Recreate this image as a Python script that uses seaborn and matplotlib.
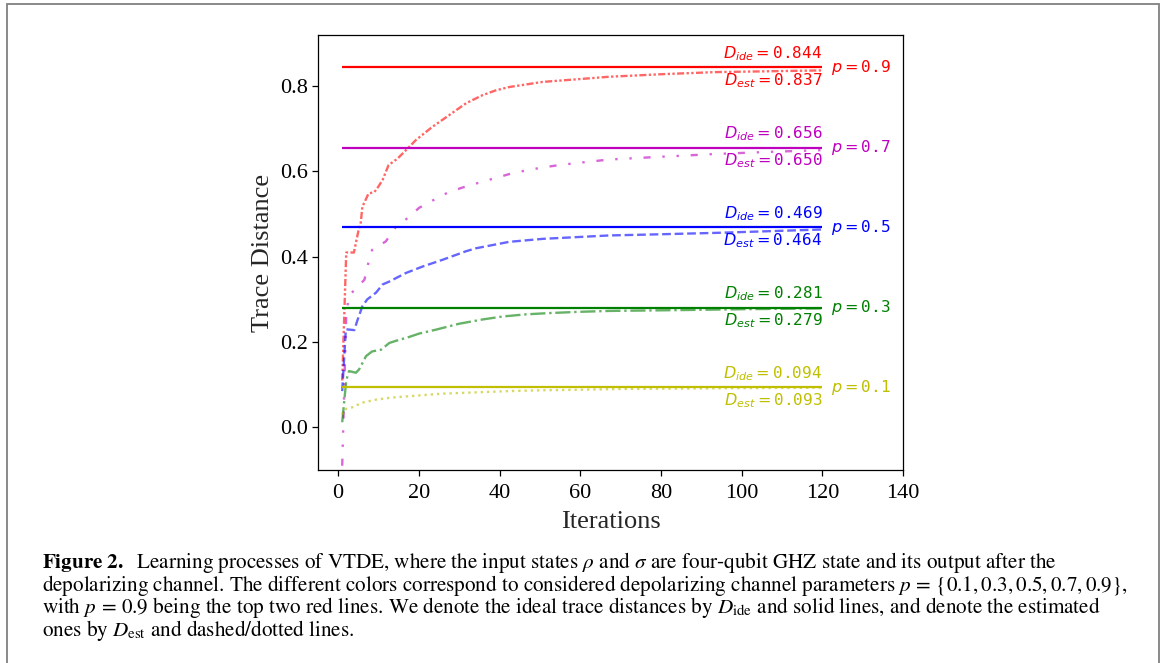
import numpy as np
import pandas as pd
import matplotlib
matplotlib.use("Agg")
import matplotlib.pyplot as plt
from matplotlib.patches import Rectangle
import seaborn as sns

# depolarizing parameters and the ideal trace distances
p_values = [0.9, 0.7, 0.5, 0.3, 0.1]
d_ideal = [0.844, 0.656, 0.469, 0.281, 0.094]
d_est_final = [0.837, 0.650, 0.464, 0.279, 0.093]
colors = ["#ff0000", "#bf00bf", "#0000ff", "#008000", "#bfbf00"]

# learning curves (iteration, estimated trace distance)
iter_p09 = [1, 2, 3.9, 5.0, 5.6, 6.0, 6.5, 7.5, 9.0, 10.0, 11.0, 12.5, 14.7, 16.8, 19.3,
            23.4, 27.5, 31.7, 35.8, 39.0, 42.4, 50.7, 59.0, 67.0, 80.0, 93.5, 107.0, 120.0]
est_p09 = [0.11, 0.41, 0.41, 0.46, 0.48, 0.518, 0.527, 0.548, 0.552, 0.565, 0.58, 0.615,
           0.63, 0.65, 0.674, 0.705, 0.732, 0.76, 0.779, 0.79, 0.798, 0.81, 0.816, 0.822,
           0.828, 0.833, 0.835, 0.837]

iter_p07 = [1, 2, 2.7, 4.4, 6.5, 7.5, 8.4, 11.8, 14.3, 17.1, 20.1, 24.2, 27.5, 31.7, 35.4,
            39.1, 43.2, 47.4, 51.1, 54.8, 59.3, 63.2, 67.2, 79.0, 93.5, 107.0, 120.0]
est_p07 = [-0.09, 0.265, 0.31, 0.325, 0.346, 0.386, 0.416, 0.436, 0.47, 0.49, 0.515, 0.536,
           0.552, 0.565, 0.575, 0.585, 0.596, 0.604, 0.61, 0.615, 0.62, 0.624, 0.628, 0.634,
           0.641, 0.646, 0.650]

iter_p05 = [1, 1.9, 4.0, 4.7, 6.0, 7.2, 9.4, 11.0, 12.7, 16.8, 20.9, 25.9, 31.7, 34.2, 42.4,
            50.7, 59.0, 67.2, 76.7, 93.5, 107.0, 120.0]
est_p05 = [0.085, 0.23, 0.228, 0.249, 0.284, 0.30, 0.316, 0.335, 0.342, 0.362, 0.377, 0.393,
           0.413, 0.42, 0.435, 0.442, 0.446, 0.450, 0.452, 0.456, 0.460, 0.464]

iter_p03 = [1, 2, 2.7, 4.4, 5.2, 6.9, 8.4, 10.6, 12.7, 14.7, 17.6, 20.1, 24.2, 30.0, 35.8,
            40.8, 46.6, 52.4, 60.0, 67.2, 85.0, 100.0, 120.0]
est_p03 = [0.012, 0.11, 0.132, 0.128, 0.136, 0.167, 0.178, 0.182, 0.198, 0.204, 0.212, 0.22,
           0.229, 0.243, 0.253, 0.26, 0.265, 0.268, 0.271, 0.273, 0.275, 0.277, 0.279]

iter_p01 = [1, 1.5, 3.5, 6.0, 9.4, 13.4, 17.6, 25.8, 34.0, 42.4, 50.6, 59.0, 70.0, 85.0,
            100.0, 120.0]
est_p01 = [0.03, 0.042, 0.047, 0.058, 0.065, 0.07, 0.073, 0.079, 0.082, 0.085, 0.087, 0.088,
           0.09, 0.091, 0.092, 0.093]

curves = [(iter_p09, est_p09), (iter_p07, est_p07), (iter_p05, est_p05),
          (iter_p03, est_p03), (iter_p01, est_p01)]
styles = [(0, (3, 1, 1, 1, 1, 1)), (0, (3, 5, 1, 5, 1, 5)), (0, (3.7, 1.6)),
          (0, (6.4, 1.6, 1, 1.6)), (0, (1, 1.65))]

x_ticks = [0, 20, 40, 60, 80, 100, 120, 140]
y_ticks = [0.0, 0.2, 0.4, 0.6, 0.8]

sns.set_style("ticks")
plt.rcParams["font.family"] = ["Liberation Serif", "DejaVu Serif"]
plt.rcParams["mathtext.fontset"] = "dejavusans"
plt.rcParams["axes.edgecolor"] = "black"
plt.rcParams["text.color"] = "black"
plt.rcParams["xtick.color"] = "black"
plt.rcParams["ytick.color"] = "black"

W, H = 1165, 663
fig = plt.figure(figsize=(W / 100, H / 100), dpi=100)
ax = fig.add_axes([318 / W, 1 - 470 / H, 585 / W, 435 / H])

frames = []
for p, (xs, ys) in zip(p_values, curves):
    frames.append(pd.DataFrame({"Iterations": xs, "Trace Distance": ys, "p": p}))
data = pd.concat(frames, ignore_index=True)

for p, ideal, est, col, ls in zip(p_values, d_ideal, d_est_final, colors, styles):
    sub = data[data["p"] == p]
    sns.lineplot(data=sub, x="Iterations", y="Trace Distance", ax=ax, color=col,
                 alpha=0.6, lw=1.7, errorbar=None, estimator=None, sort=True)
    ax.lines[-1].set_linestyle(ls)
    ax.hlines(ideal, 1, 120, colors=col, lw=1.6)
    ax.annotate(r"$D_{ide}=$" + f"{ideal:.3f}", xy=(120, ideal), xytext=(0, 3),
                textcoords="offset points", ha="right", va="bottom", color=col,
                family="DejaVu Sans Mono", fontsize=11.5)
    ax.annotate(r"$D_{est}=$" + f"{est:.3f}", xy=(120, ideal), xytext=(0, -3),
                textcoords="offset points", ha="right", va="top", color=col,
                family="DejaVu Sans Mono", fontsize=11.5)
    ax.annotate(r"$p=$" + f"{p:.1f}", xy=(120, ideal), xytext=(6, 0),
                textcoords="offset points", ha="left", va="center", color=col,
                family="DejaVu Sans Mono", fontsize=11.5)

ax.set_xlim(-5, 140)
ax.set_ylim(-0.1, 0.92)
ax.set_xticks(x_ticks)
ax.set_yticks(y_ticks)
ax.tick_params(labelsize=16, length=4, width=0.9)
ax.tick_params(axis="x", pad=6)
ax.set_xlabel("Iterations", fontsize=19, labelpad=6)
ax.set_ylabel("Trace Distance", fontsize=19)
for s in ax.spines.values():
    s.set_visible(True)
    s.set_linewidth(0.9)

# caption
cap_lines = [
    r"$\mathbf{Figure\ 2.}$  Learning processes of VTDE, where the input states $\rho$ and $\sigma$ are four-qubit GHZ state and its output after the",
    r"depolarizing channel. The different colors correspond to considered depolarizing channel parameters $p\,=\,\{0.1, 0.3, 0.5, 0.7, 0.9\}$,",
    r"with $p\,=\,0.9$ being the top two red lines. We denote the ideal trace distances by $D_{\mathrm{ide}}$ and solid lines, and denote the estimated",
    r"ones by $D_{\mathrm{est}}$ and dashed/dotted lines.",
]
for i, line in enumerate(cap_lines):
    fig.text(42 / W, 1 - (568 + 22.7 * i) / H, line, family="STIXGeneral",
             math_fontfamily="stix", fontsize=15.2, ha="left", va="baseline")

# frame around the figure
fig.add_artist(Rectangle((7 / W, -0.05), (1159 - 7) / W, 1.05 - 4.5 / H,
                         transform=fig.transFigure, fill=False,
                         edgecolor="#808080", lw=1.3))

fig.savefig("out.png", dpi=100)
